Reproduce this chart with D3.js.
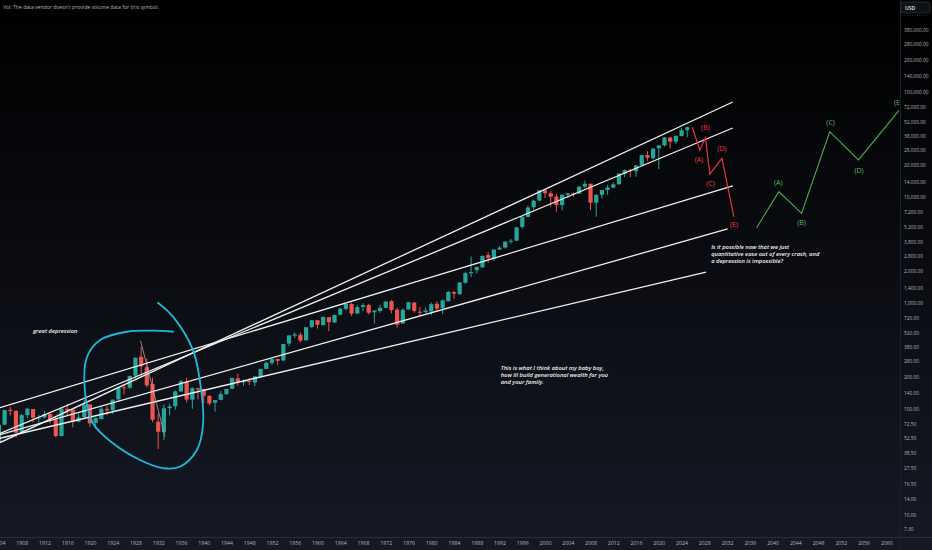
<!DOCTYPE html>
<html><head><meta charset="utf-8">
<script src="https://cdnjs.cloudflare.com/ajax/libs/d3/7.8.5/d3.min.js"></script>
<style>html,body{margin:0;padding:0;background:#000;}svg{display:block;}</style>
</head><body>
<svg id="c" width="932" height="550"></svg>
<script>
// ---- DATA (Dow Jones Industrial Average, yearly candles) ----
const years = [1903,1904,1905,1906,1907,1908,1909,1910,1911,1912,1913,1914,1915,1916,1917,1918,1919,1920,1921,1922,1923,1924,1925,1926,1927,1928,1929,1930,1931,1932,1933,1934,1935,1936,1937,1938,1939,1940,1941,1942,1943,1944,1945,1946,1947,1948,1949,1950,1951,1952,1953,1954,1955,1956,1957,1958,1959,1960,1961,1962,1963,1964,1965,1966,1967,1968,1969,1970,1971,1972,1973,1974,1975,1976,1977,1978,1979,1980,1981,1982,1983,1984,1985,1986,1987,1988,1989,1990,1991,1992,1993,1994,1995,1996,1997,1998,1999,2000,2001,2002,2003,2004,2005,2006,2007,2008,2009,2010,2011,2012,2013,2014,2015,2016,2017,2018,2019,2020,2021,2022,2023,2024,2025];
const opens = [64.20,47.38,70.05,96.62,94.25,58.62,86.18,98.34,81.68,81.98,88.57,78.59,54.63,98.81,96.15,74.63,82.60,108.76,72.67,78.91,98.77,95.65,121.25,157.35,156.56,203.35,307.01,244.20,169.84,74.62,59.29,100.36,104.51,144.13,178.52,120.57,154.85,151.43,130.57,112.77,119.93,135.92,152.58,191.66,176.39,181.04,175.03,198.89,235.42,268.08,292.14,282.89,408.89,485.78,496.03,439.27,587.59,679.06,610.25,724.71,646.79,766.08,869.78,968.54,786.41,906.84,947.73,809.20,830.57,889.30,1031.68,855.32,632.04,858.71,999.75,817.74,811.42,824.57,972.78,882.52,1027.04,1252.74,1198.87,1537.73,1927.31,2015.25,2144.64,2810.15,2610.64,3172.41,3309.22,3756.60,3838.48,5177.45,6442.49,7965.04,9184.27,11501.85,10790.92,10021.71,8342.38,10452.74,10783.75,10718.30,12474.52,13261.82,8772.25,10430.69,11577.43,12221.19,13104.30,16572.17,17823.07,17405.48,19872.86,24809.35,23058.61,28638.97,30627.47,36321.59,33148.90,37566.22,42588.59];
const highs = [67.70,73.23,96.56,103.00,96.37,88.38,100.53,98.34,87.06,94.15,88.57,83.43,99.21,110.15,99.18,89.07,119.62,109.88,81.50,103.43,105.38,120.51,159.39,166.64,202.40,300.00,381.17,294.07,194.36,88.78,108.67,110.74,148.44,184.90,194.40,158.41,155.92,152.80,133.59,119.71,145.82,152.53,195.82,212.50,186.85,193.16,200.52,235.47,276.37,292.00,293.79,404.39,488.40,521.05,520.77,583.65,679.36,685.47,734.91,726.01,767.21,891.71,969.26,995.15,943.08,985.21,968.85,842.00,950.82,1036.27,1051.70,891.66,881.81,1014.79,999.75,907.74,897.61,1000.17,1024.05,1070.55,1287.20,1286.64,1553.10,1955.57,2722.42,2183.50,2791.41,2999.75,3168.83,3413.21,3794.33,3978.36,5216.47,6560.91,8259.31,9374.27,11497.12,11750.28,11337.92,10673.10,10462.44,10868.07,10940.50,12510.57,14198.10,13279.54,10580.33,11625.00,12928.49,13661.72,16588.25,18103.45,18351.36,19987.63,24876.07,26951.81,28701.66,30637.47,36565.73,36952.65,37778.85,45073.63,46000];
const lows = [42.15,46.41,68.76,85.18,53.00,58.62,79.91,73.62,72.94,80.15,72.11,53.17,54.22,84.96,65.95,73.38,79.15,66.75,63.90,78.59,85.76,88.33,115.00,135.20,152.73,191.33,198.69,157.51,73.79,41.22,50.16,85.51,96.71,143.11,113.64,98.95,121.44,111.84,106.34,92.92,119.26,134.22,151.35,163.12,163.21,165.39,161.60,196.81,238.99,256.35,255.49,279.87,388.20,462.35,419.79,436.89,574.46,566.05,610.25,535.76,646.79,766.08,840.59,744.32,786.41,825.13,769.93,631.16,797.97,889.15,788.31,577.60,632.04,858.71,800.85,742.12,796.67,759.13,824.01,776.92,1027.04,1086.57,1184.96,1502.29,1738.74,1879.14,2144.64,2365.10,2470.30,3136.58,3241.95,3593.35,3832.08,5000.00,6391.69,7539.07,9120.67,9731.81,8062.34,7197.49,7416.64,9708.40,10012.36,10667.39,11939.61,7449.38,6469.95,9614.32,10404.49,12035.09,13104.30,15340.69,15370.33,15450.56,19677.94,21712.53,22638.41,18213.65,29856.30,28660.94,31429.82,37122.95,36611.78];
const closes = [49.11,69.61,96.20,94.35,58.75,86.15,99.05,81.36,81.68,87.87,78.78,54.58,99.15,95.00,74.38,82.20,107.23,71.95,81.10,98.73,95.52,120.51,156.66,157.20,202.40,300.00,248.48,164.58,77.90,59.93,99.90,104.04,144.13,179.90,120.85,154.76,150.24,131.13,110.96,119.40,135.89,152.32,192.91,177.20,181.16,177.30,200.13,235.41,269.23,291.90,280.90,404.39,488.40,499.47,435.69,583.65,679.36,615.89,731.14,652.10,762.95,874.13,969.26,785.69,905.11,943.75,800.36,838.92,890.20,1020.02,850.86,616.24,852.41,1004.65,831.17,805.01,838.74,963.99,875.00,1046.54,1258.64,1211.57,1546.67,1895.95,1938.83,2168.57,2753.20,2633.66,3168.83,3301.11,3754.09,3834.44,5117.12,6448.27,7908.25,9181.43,11497.12,10786.85,10021.50,8341.63,10453.92,10783.01,10717.50,12463.15,13264.82,8776.39,10428.05,11577.51,12217.56,13104.14,16576.66,17823.07,17425.03,19762.60,24719.22,23327.46,28538.44,30606.48,36338.30,33147.25,37689.54,42544.22,45500];

// axis tick labels
const xTicks = [1904,1908,1912,1916,1920,1924,1928,1932,1936,1940,1944,1948,1952,1956,1960,1964,1968,1972,1976,1980,1984,1988,1992,1996,2000,2004,2008,2012,2016,2020,2024,2028,2032,2036,2040,2044,2048,2052,2056,2060];
const yTicks = [7.3,10,14,19.5,27.5,38.5,52.5,72.5,100,140,200,280,380,520,720,1000,1400,2000,2800,3800,5200,7200,10000,14000,20000,28000,38000,52000,72000,100000,140000,200000,280000,380000];

// trend lines [year, price] -> [year, price]
const trendLines = [
  [[1904.19, 47.4], [2033.0, 78700]],
  [[1904.19, 57.9], [2033.0, 44700]],
  [[1904.19, 101.4], [2033.0, 12650]],
  [[1904.19, 56.2], [2032.1, 4955]],
  [[1904.19, 52.0], [2028.3, 1941]]
];
// thin line drawn across the 1929 crash
const crashLine = [[1928.9, 435], [1933.2, 53.8]];

// projected waves
const redWave = [[2025.9, 45400], [2027.2, 27700], [2028.2, 36100], [2028.97, 16400], [2031.1, 23100], [2033.2, 6470]];
const redLabels = [["(A)", 2027.05, 22300], ["(B)", 2028.2, 44700], ["(C)", 2029.1, 13200], ["(D)", 2031.1, 28300], ["(E)", 2033.2, 5410]];
const greenWave = [[2037.2, 5090], [2041.1, 11170], [2045.1, 6970], [2050.05, 41200], [2055.1, 22300], [2062.2, 65200]];
const greenLabels = [["(A)", 2041.0, 13770], ["(B)", 2045.1, 5650], ["(C)", 2050.2, 50900], ["(D)", 2055.2, 17900], ["(E", 2061.85, 77400]];

// hand-drawn circle around the great depression
const circlePts = [[1931.95, 995], [1934.6, 735], [1938.1, 356], [1939.3, 185], [1939.9, 72.6], [1938.8, 40.3], [1935.8, 28.0], [1932.8, 27.2], [1928.8, 32.4], [1924.0, 46.9], [1920.5, 72.6], [1919.1, 149], [1919.5, 307], [1921.8, 442], [1926.5, 529], [1931.1, 541], [1934.6, 529]];

// text notes
const notes = [
  {lines: ["great depression"], year: 1910.0, price: 541, gap: 7},
  {lines: ["Is it possible now that we just", "quantitative ease out of every crash, and", "a depression is impossible?"], year: 2029.2, price: 3375, gap: 7.3},
  {lines: ["This is what I think about my baby boy,", "how ill build generational wealth for you", "and your family."], year: 1992.2, price: 239, gap: 6.7}
];
const volText = "Vol: The data vendor doesn't provide volume data for this symbol.";

// ---- DRAW ----
const W = 932, H = 550, plotW = 900, plotH = 537;
const svg = d3.select("#c");
const defs = svg.append("defs");
const g0 = defs.append("linearGradient").attr("id","bg").attr("x1",0).attr("y1",0).attr("x2",0).attr("y2",1);
g0.append("stop").attr("offset","0%").attr("stop-color","#000000");
g0.append("stop").attr("offset","100%").attr("stop-color","#151924");
defs.append("clipPath").attr("id","plot").append("rect").attr("x",0).attr("y",0).attr("width",plotW).attr("height",plotH);
svg.append("rect").attr("width",W).attr("height",H).attr("fill","url(#bg)");

const x = d3.scaleLinear().domain([1904.19, 2062.4]).range([0, plotW]);
const y = d3.scaleLog().domain([10, 100000]).range([514, 91]);

const plot = svg.append("g").attr("clip-path","url(#plot)");

// candles
const UP = "#26a69a", DOWN = "#ef5350";
const data = years.map((yr,i)=>({yr, o:opens[i], h:highs[i], l:lows[i], c:closes[i]}));
const bw = (x(1905)-x(1904))*0.74;
const cg = plot.append("g");
cg.selectAll("line.w").data(data).join("line")
  .attr("x1",d=>x(d.yr)).attr("x2",d=>x(d.yr))
  .attr("y1",d=>y(d.h)).attr("y2",d=>y(d.l))
  .attr("stroke",d=>d.c>=d.o?UP:DOWN).attr("stroke-width",1);
cg.selectAll("rect.b").data(data).join("rect")
  .attr("x",d=>x(d.yr)-bw/2).attr("width",bw)
  .attr("y",d=>y(Math.max(d.o,d.c)))
  .attr("height",d=>Math.max(1, y(Math.min(d.o,d.c))-y(Math.max(d.o,d.c))))
  .attr("fill",d=>d.c>=d.o?UP:DOWN);

// trend lines
plot.selectAll("line.t").data(trendLines).join("line")
  .attr("x1",d=>x(d[0][0])).attr("y1",d=>y(d[0][1]))
  .attr("x2",d=>x(d[1][0])).attr("y2",d=>y(d[1][1]))
  .attr("stroke","#f0f0f0").attr("stroke-width",1.3);

plot.append("line")
  .attr("x1",x(crashLine[0][0])).attr("y1",y(crashLine[0][1]))
  .attr("x2",x(crashLine[1][0])).attr("y2",y(crashLine[1][1]))
  .attr("stroke","#b9a3a6").attr("stroke-width",0.8);

// circle
const lineGen = d3.line().x(d=>x(d[0])).y(d=>y(d[1])).curve(d3.curveCatmullRom.alpha(0.5));
plot.append("path").attr("d",lineGen(circlePts)).attr("fill","none")
  .attr("stroke","#1fb8d6").attr("stroke-width",1.8).attr("stroke-linecap","round");

// waves
const straight = d3.line().x(d=>x(d[0])).y(d=>y(d[1]));
plot.append("path").attr("d",straight(redWave)).attr("fill","none").attr("stroke","#f23645").attr("stroke-width",1.1);
plot.append("path").attr("d",straight(greenWave)).attr("fill","none").attr("stroke","#4caf50").attr("stroke-width",1.1);
plot.selectAll("text.rl").data(redLabels).join("text")
  .attr("x",d=>x(d[1])).attr("y",d=>y(d[2])).attr("text-anchor","middle").attr("dominant-baseline","central")
  .attr("fill","#f23645").attr("font-family","Open Sans, sans-serif").attr("font-size",7).text(d=>d[0]);
plot.selectAll("text.gl").data(greenLabels).join("text")
  .attr("x",d=>x(d[1])).attr("y",d=>y(d[2])).attr("text-anchor","middle").attr("dominant-baseline","central")
  .attr("fill","#5cb860").attr("font-family","Open Sans, sans-serif").attr("font-size",7).text(d=>d[0]);

// notes
notes.forEach(n=>{
  const t = plot.append("text").attr("x",x(n.year)).attr("y",y(n.price))
    .attr("fill","#f2f2f2").attr("font-family","Open Sans, sans-serif").attr("font-style","italic")
    .attr("font-weight",600).attr("font-size",5.8).attr("dominant-baseline","central");
  n.lines.forEach((l,i)=>t.append("tspan").attr("x",x(n.year)).attr("dy",i===0?0:n.gap).text(l));
});

svg.append("text").attr("x",3).attr("y",7).attr("dominant-baseline","central")
  .attr("fill","#b2b5be").attr("font-family","Open Sans, sans-serif").attr("font-size",5.1).text(volText);

// axes
svg.append("line").attr("x1",0).attr("x2",W).attr("y1",plotH+0.5).attr("y2",plotH+0.5).attr("stroke","#2a2e39").attr("stroke-width",1);
svg.append("line").attr("x1",plotW+0.5).attr("x2",plotW+0.5).attr("y1",0).attr("y2",H).attr("stroke","#1c202b").attr("stroke-width",1);

const xAxis = d3.axisBottom(x).tickValues(xTicks).tickSize(0).tickPadding(0).tickFormat(d3.format("d"));
const gx = svg.append("g").attr("transform",`translate(0,${plotH})`).call(xAxis);
gx.select(".domain").remove();
gx.selectAll("text").attr("y",6).attr("dy","0").attr("dominant-baseline","central")
  .attr("fill","#b2b5be").attr("font-family","Open Sans, sans-serif").attr("font-size",5.2);

const yAxis = d3.axisRight(y).tickValues(yTicks).tickSize(0).tickPadding(0).tickFormat(d3.format(",.2f"));
const gy = svg.append("g").attr("transform",`translate(${plotW+4},0)`).call(yAxis);
gy.select(".domain").remove();
gy.selectAll("text").attr("x",0).attr("dy","0").attr("dominant-baseline","central").attr("text-anchor","start")
  .attr("fill","#b2b5be").attr("font-family","Open Sans, sans-serif").attr("font-size",4.8);

// USD badge
svg.append("rect").attr("x",901).attr("y",2).attr("width",29).attr("height",11).attr("rx",2)
  .attr("fill","#0f1118").attr("stroke","#2a2e39").attr("stroke-width",0.8);
svg.append("text").attr("x",905).attr("y",7.8).attr("dominant-baseline","central")
  .attr("fill","#e6e6e6").attr("font-family","Open Sans, sans-serif").attr("font-weight",600).attr("font-size",5).text("USD");
svg.append("line").attr("x1",902).attr("x2",929).attr("y1",15.5).attr("y2",15.5)
  .attr("stroke","#3a3e49").attr("stroke-width",0.6).attr("stroke-dasharray","1,1.5");
</script>
</body></html>
